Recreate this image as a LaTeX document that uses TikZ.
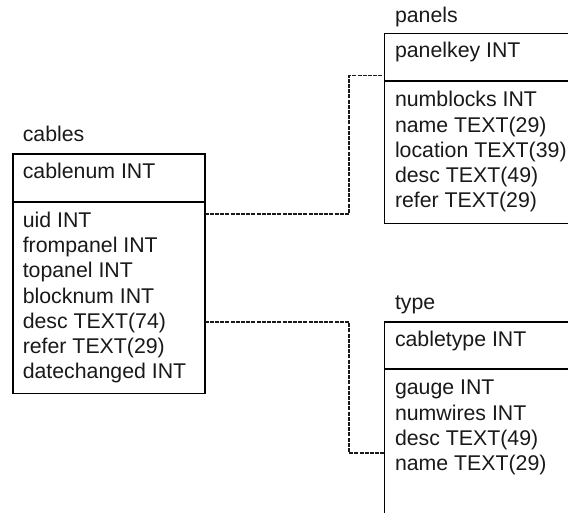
\documentclass[tikz,border=0pt]{standalone}
\usepackage{fontspec}
\setmainfont{Liberation Sans}
\begin{document}
\begin{tikzpicture}[x=1pt,y=-1pt,
  box/.style={draw=black, line width=1.9pt, inner sep=0pt, outer sep=0pt, anchor=north west},
  rulerline/.style={draw=black, line width=1.9pt},
  lbl/.style={font=\fontsize{21.3}{25}\selectfont, inner sep=0pt, outer sep=0pt, anchor=base west, text=black!90},
  conn/.style={draw=black!90, line width=1.2pt, dash pattern=on 4pt off 1.2pt}]
\useasboundingbox (0,0) rectangle (568,512);
\clip (0,0) rectangle (568,512);

% cables
\node[box, minimum width=191.3pt, minimum height=239.5pt] (cab) at (13.3,154) {};
\draw[rulerline] (cab.west |- 0,201.7) -- (cab.east |- 0,201.7);
\node[lbl] (cabname) at (22.8,141.7) {cables};
\node[lbl] (cabkey) at (22.8,178.3) {cablenum INT};
\foreach \t [count=\i from 0] in {uid INT, frompanel INT, topanel INT, blocknum INT, desc TEXT(74), refer TEXT(29), datechanged INT}
  \node[lbl] (cabf\i) at (22.8,227.5+25.2*\i) {\t};

% panels
\node[box, minimum width=200pt, minimum height=190pt] (pan) at (384.5,33.5) {};
\draw[rulerline] (pan.west |- 0,81) -- (pan.east |- 0,81);
\node[lbl] (panname) at (395,22.8) {panels};
\node[lbl] (pankey) at (395,57.8) {panelkey INT};
\foreach \t [count=\i from 0] in {numblocks INT, name TEXT(29), location TEXT(39), desc TEXT(49), refer TEXT(29)}
  \node[lbl] (panf\i) at (395,106.8+25.2*\i) {\t};

% type
\node[box, minimum width=200pt, minimum height=220pt] (typ) at (384.5,322) {};
\draw[rulerline] (typ.west |- 0,369.3) -- (typ.east |- 0,369.3);
\node[lbl] (typname) at (395,309.5) {type};
\node[lbl] (typkey) at (395,346.3) {cabletype INT};
\foreach \t [count=\i from 0] in {gauge INT, numwires INT, desc TEXT(49), name TEXT(29)}
  \node[lbl] (typf\i) at (395,394.8+25.2*\i) {\t};

% connectors
\draw[conn] (cab.east |- 0,214) -- (349,214) -- (349,75.7) -- (pan.west |- 0,75.7);
\draw[conn] (cab.east |- 0,322) -- (349,322) -- (349,453) -- (typ.west |- 0,453);
\end{tikzpicture}
\end{document}
